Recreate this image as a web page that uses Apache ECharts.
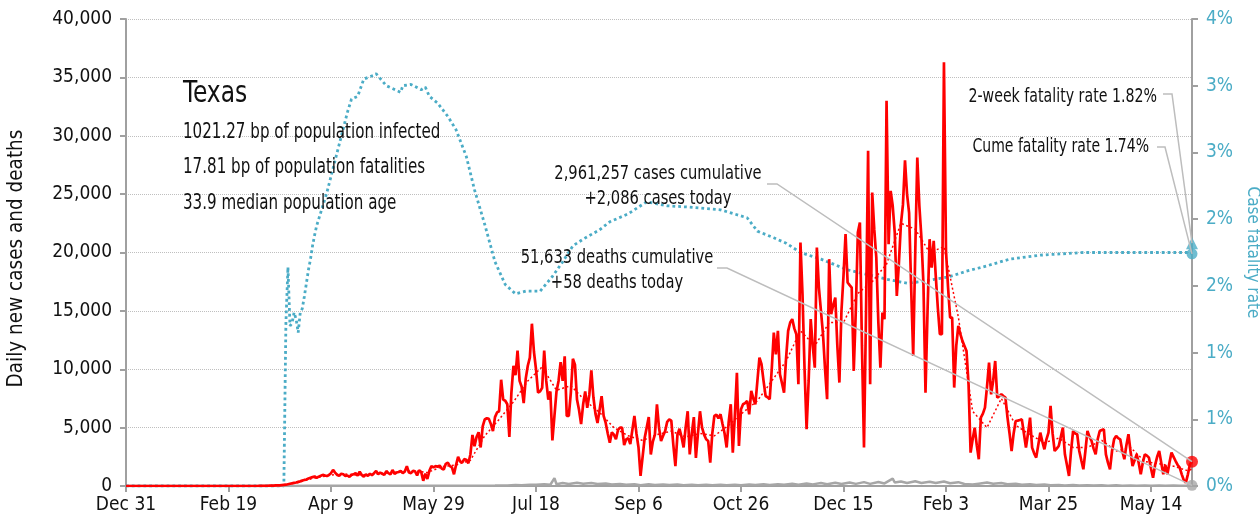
<!DOCTYPE html>
<html><head><meta charset="utf-8">
<script src="https://cdn.jsdelivr.net/npm/echarts@6/dist/echarts.min.js"></script>
<style>html,body{margin:0;padding:0;background:#fff}#c{width:1260px;height:523px}</style>
</head><body><div id="c"></div>
<script>
// ---- data ----
const xTickDays = [0,50,100,150,200,250,300,350,400,450,500];
const xTickLabels = ['Dec 31','Feb 19','Apr 9','May 29','Jul 18','Sep 6','Oct 26','Dec 15','Feb 3','Mar 25','May 14'];
const lastDay = 520;
const casesStartDay = 64;
const dailyCases = [
2,5,4,10,15,20,25,30,40,50,60,
60,80,100,110,150,190,230,270,300,350,
400,470,520,560,640,700,760,820,690,800,870,950,900,850,950,
1100,1380,1150,950,880,1050,1000,850,900,780,
950,1000,1100,900,1230,950,800,1000,870,1050,
920,1100,1280,1000,1150,1050,950,1280,1100,1000,
1370,1050,1150,1200,1300,1100,1250,1700,1150,1100,
1300,1250,900,1350,1200,450,1050,600,1300,1700,
1600,1700,1650,1750,1500,1400,1900,2000,1700,1600,
1000,1800,2500,2100,2000,2300,2250,1950,2700,
4370,3400,4200,4600,3300,5100,5700,5800,5750,5300,
4700,5900,6300,6400,9100,7400,7300,7000,4200,8000,
10300,9500,11600,9000,8500,7100,9200,10300,11000,13900,
11500,10000,8000,8100,8400,11600,9000,7400,8100,3900,
6000,8100,9000,10600,9000,11100,6000,6000,8000,10900,
10400,7400,6500,5300,7000,8100,6700,7800,9900,7600,
6200,5400,6500,7700,6000,5400,4500,3700,4600,4400,
4000,4800,5000,
5000,3500,4000,4100,3600,4800,6000,4500,3300,860,
2500,4100,5000,5900,2700,3800,4400,7000,5000,3850,
4300,4700,5500,5700,5600,3500,1700,4400,4900,4200,
3300,5000,6400,2700,4500,5900,2400,4500,6400,5000,
4400,4000,3850,2000,4500,6000,6100,5800,6150,5300,
4500,3300,5500,7000,2860,6000,9700,3430,6570,7000,
7100,7290,6140,8140,7500,7000,9000,11000,10430,9000,
7710,7600,7430,10000,13140,11280,13285,9570,8800,8000,
11000,13285,14000,14290,13500,13000,8710,20860,16430,10000,
4860,9000,14290,12000,10140,20430,17000,14990,13000,10000,
7430,19430,14710,15500,16140,12000,8860,14990,18000,21570,
17430,17200,17000,9860,15000,21710,22570,12000,3290,15000,
28710,8710,25140,22000,19570,14000,10140,14850,14290,33000,
20710,25280,24000,21710,16280,19000,22430,24100,27900,25000,
23400,17000,11140,20000,28140,24000,21290,17290,8000,15000,
21140,18710,21000,18000,15290,13000,13000,36290,20140,17000,
14430,14430,8430,12000,13710,13000,12430,12000,11570,8710,
2860,4000,5000,3500,2290,5860,6200,6710,8500,10570,
7850,9000,10710,7570,7700,7850,7700,7570,5860,4500,
3000,4500,5570,5600,5650,5710,4500,3290,4500,5860,
3290,2800,2430,3500,4570,3800,3140,4000,4570,6860,
4500,3000,3200,3430,4200,5000,2710,1800,860,3000,
4710,4500,4430,3000,2200,1430,3000,4710,4200,3860,
3200,2710,4000,4710,4800,4860,2710,2000,1430,3000,
4000,4290,4100,4000,3000,2290,3500,4430,3000,1710,
2200,2710,2000,1000,2000,2710,2600,2430,1500,710,
1800,2500,3000,2000,1000,1800,1000,2000,2860,2500,
2140,1800,1570,1000,500,290,1000,1860,2086
];
const avgDays = [0,63,70,77,84,91,98,105,112,119,126,133,140,147,154,161,168,175,182,189,196,203,210,217,224,231,238,245,252,259,266,273,280,287,294,301,308,315,322,329,336,343,350,357,364,371,378,385,392,399,406,413,420,427,434,441,448,455,462,469,476,483,490,497,504,511,518,520];
const avgCases = [0,0,20,100,300,650,870,1050,950,980,1100,1200,1300,1150,1650,1800,2200,4300,5700,7200,9000,10200,8200,8600,7300,6300,5000,4300,3900,4400,4700,4200,4500,4300,5200,6300,7300,9000,10700,13300,12000,14000,14000,16500,17500,19000,22500,22000,20000,20500,14500,6400,5000,7500,5200,4400,3700,4100,3300,3300,3900,3000,3300,2100,1900,1700,1300,1450];
const deathDays = [0,60,70,80,90,100,110,120,130,140,150,160,170,180,186,190,193,197,200,204,207,209,210,213,216,220,223,227,230,234,237,241,244,248,251,255,258,262,265,269,272,276,279,283,286,290,293,297,300,304,307,311,314,318,321,325,328,332,335,339,342,346,349,353,356,360,363,367,370,374,375,378,381,385,388,392,395,399,402,406,409,413,416,420,423,427,430,434,437,441,444,448,451,455,458,462,465,469,472,476,479,483,486,490,493,497,500,504,507,511,514,518,520];
const deathValues = [0,0,1,5,15,25,30,30,30,25,25,30,30,40,50,80,60,110,100,140,110,675,150,250,180,280,200,260,180,220,130,180,110,160,60,140,90,130,80,120,70,110,70,100,60,110,70,100,60,120,80,140,90,160,100,190,110,220,140,250,150,280,170,300,180,330,180,350,220,630,300,380,250,400,260,370,250,380,230,330,170,120,200,300,200,250,150,200,110,160,80,120,60,90,50,80,40,70,40,60,30,60,30,50,30,50,20,45,25,40,20,40,58];
const cfrDays = [0,77,78,79,80,81,82,83,84,85,86,87,88,89,90,91,92,93,98,103,108,110,113,116,121,122,127,134,135,139,144,146,148,152,157,161,166,170,175,180,185,190,195,202,208,213,218,223,231,236,245,254,264,275,290,303,308,316,322,329,339,352,363,371,381,387,402,410,420,431,446,467,490,519,520];
const cfrValues = [0,0,1.22,1.64,1.20,1.22,1.30,1.25,1.15,1.30,1.33,1.42,1.52,1.62,1.70,1.80,1.88,1.95,2.20,2.50,2.80,2.90,2.92,3.05,3.08,3.09,3.00,2.95,3.00,3.01,2.97,2.99,2.92,2.87,2.77,2.67,2.47,2.22,1.96,1.68,1.51,1.44,1.46,1.46,1.57,1.68,1.80,1.85,1.92,1.98,2.04,2.13,2.10,2.09,2.07,2.01,1.91,1.86,1.82,1.75,1.70,1.62,1.58,1.55,1.52,1.53,1.57,1.61,1.65,1.70,1.73,1.75,1.75,1.75,1.74];
const stateName = 'Texas';
const infectedBp = 1021.27, fatalitiesBp = 17.81, medianAge = 33.9;
const cumeCases = 2961257, todayCases = 2086, cumeDeaths = 51633, todayDeaths = 58;
const twoWeekRate = 1.82, cumeRate = 1.74;

// ---- chart ----
const FONT = "'DejaVu Sans Condensed', 'Liberation Sans Narrow', sans-serif";
const BLUE = '#4BACC6', RED = '#FF0000', GRAY = '#A6A6A6';
const fmt = n => n.toLocaleString('en-US');
const pairs = (days, vals) => days.map((d, i) => [d, vals[i]]);
const casesData = [[0, 0]].concat(dailyCases.map((v, i) => [casesStartDay + i, v]));

const chart = echarts.init(document.getElementById('c'), null, {renderer: 'canvas'});
const option = {
  animation: false,
  textStyle: {fontFamily: FONT},
  grid: {left: 126, right: 68, top: 19, bottom: 37, containLabel: false, outerBoundsMode: 'none'},
  xAxis: {
    type: 'value', min: 0, max: lastDay, interval: 50,
    axisLine: {lineStyle: {color: '#A0A0A0', width: 2}},
    axisTick: {show: true, length: 6, lineStyle: {color: '#A0A0A0', width: 2}, customValues: xTickDays},
    axisLabel: {customValues: xTickDays, formatter: v => xTickLabels[xTickDays.indexOf(v)] || '',
      color: '#111', fontSize: 19, fontFamily: FONT, margin: 10},
    splitLine: {show: false}
  },
  yAxis: [{
    type: 'value', min: 0, max: 40000, interval: 5000, position: 'left',
    name: 'Daily new cases and deaths', nameLocation: 'middle', nameGap: 99, nameRotate: 90,
    nameTextStyle: {color: '#111', fontSize: 20.5, fontFamily: FONT, padding: [0, 12, 0, 0]},
    axisLine: {show: true, lineStyle: {color: '#A0A0A0', width: 2}},
    axisTick: {show: true, length: 6, lineStyle: {color: '#A0A0A0', width: 2}},
    axisLabel: {formatter: v => fmt(v), color: '#111', fontSize: 19, fontFamily: FONT, margin: 14},
    splitLine: {show: true, lineStyle: {color: '#BFBFBF', type: 'dotted', width: 1}}
  }, {
    type: 'value', min: 0, max: 3.5, interval: 0.5, position: 'right',
    name: 'Case fatality rate', nameLocation: 'middle', nameGap: 50, nameRotate: -90,
    nameTextStyle: {color: BLUE, fontSize: 17, fontFamily: FONT},
    axisLine: {show: true, lineStyle: {color: '#A0A0A0', width: 2}},
    axisTick: {show: true, length: 6, lineStyle: {color: '#A0A0A0', width: 2}},
    axisLabel: {formatter: v => Math.round(v) + '%', color: BLUE, fontSize: 19, fontFamily: FONT, margin: 14},
    splitLine: {show: false}
  }],
  series: [
    {name: 'Case fatality rate', type: 'line', yAxisIndex: 1, data: pairs(cfrDays, cfrValues),
      showSymbol: false, lineStyle: {color: BLUE, width: 2.8, type: [2.8, 3]}, z: 2},
    {name: 'Deaths', type: 'line', data: pairs(deathDays, deathValues), showSymbol: false,
      lineStyle: {color: GRAY, width: 2.5}, z: 3},
    {name: 'Cases 7d', type: 'line', data: pairs(avgDays, avgCases), showSymbol: false,
      lineStyle: {color: RED, width: 1.5, type: [2, 2.5]}, z: 4},
    {name: 'Cases', type: 'line', data: casesData, showSymbol: false,
      lineStyle: {color: RED, width: 2.7}, z: 5},
    {type: 'scatter', yAxisIndex: 1, data: [[lastDay, cumeRate]], symbol: 'circle', symbolSize: 11,
      itemStyle: {color: BLUE}, z: 6},
    {type: 'scatter', yAxisIndex: 1, data: [[lastDay, twoWeekRate]], symbol: 'triangle', symbolSize: 12,
      itemStyle: {color: BLUE}, z: 6},
    {type: 'scatter', data: [[lastDay, todayCases]], symbol: 'circle', symbolSize: 12,
      itemStyle: {color: RED}, z: 7},
    {type: 'scatter', data: [[lastDay, todayDeaths]], symbol: 'circle', symbolSize: 11,
      itemStyle: {color: GRAY}, z: 7}
  ]
};
chart.setOption(option);

const px = (yi, pt) => chart.convertToPixel({xAxisIndex: 0, yAxisIndex: yi}, pt);
const redPt = px(0, [lastDay, todayCases]);
const grayPt = px(0, [lastDay, todayDeaths]);
const twoPt = px(1, [lastDay, twoWeekRate]);
const cumePt = px(1, [lastDay, cumeRate]);

const txt = (text, x, y, size, sx, align) => ({type: 'text', x: x, y: y, scaleX: sx, z: 50, silent: true,
  style: {text: text, font: size + 'px ' + FONT, fill: '#111', align: align || 'left', verticalAlign: 'middle'}});
const lead = (pts) => ({type: 'polyline', z: 40, silent: true, shape: {points: pts},
  style: {stroke: '#BDBDBD', lineWidth: 1.5, fill: null}});

chart.setOption({graphic: [
  txt(stateName, 183, 94, 31, 0.84),
  txt(infectedBp.toFixed(2) + ' bp of population infected', 183, 133, 21, 0.80),
  txt(fatalitiesBp.toFixed(2) + ' bp of population fatalities', 183, 168, 21, 0.80),
  txt(medianAge.toFixed(1) + ' median population age', 183, 204, 21, 0.80),
  txt(fmt(cumeCases) + ' cases cumulative', 658, 174, 19, 0.86, 'center'),
  txt('+' + fmt(todayCases) + ' cases today', 658, 199, 19, 0.86, 'center'),
  txt(fmt(cumeDeaths) + ' deaths cumulative', 617, 258, 19, 0.86, 'center'),
  txt('+' + todayDeaths + ' deaths today', 617, 283, 19, 0.86, 'center'),
  txt('2-week fatality rate ' + twoWeekRate.toFixed(2) + '%', 1157, 97, 19, 0.83, 'right'),
  txt('Cume fatality rate ' + cumeRate.toFixed(2) + '%', 1149, 147, 19, 0.82, 'right'),
  lead([[767, 184], [777, 184], redPt]),
  lead([[717, 268], [727, 268], grayPt]),
  lead([[1163, 94], [1172, 94], twoPt]),
  lead([[1157, 147], [1165, 147], cumePt])
]});
</script>
</body></html>
